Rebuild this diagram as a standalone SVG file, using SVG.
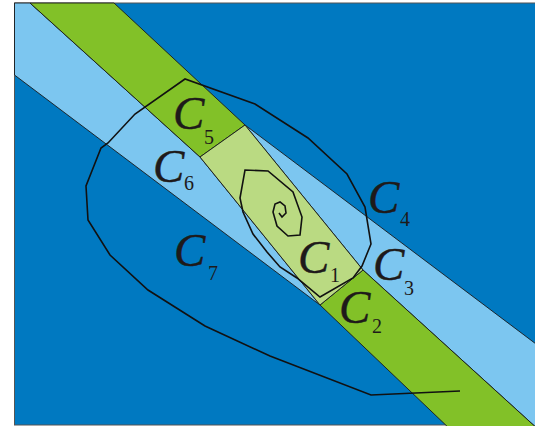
<svg xmlns="http://www.w3.org/2000/svg" width="535" height="426" viewBox="0 0 535 426">
<style>
.reg{stroke:#1a1a1a;stroke-width:0.9;stroke-linejoin:round}
.dark{fill:#0079C1}
.lb{fill:#7CC6F0}
.gr{fill:#82C128}
.lg{fill:#BADA82}
.curve{fill:none;stroke:#111;stroke-width:1.6;stroke-linejoin:miter}
.C{font-family:"Liberation Serif","DejaVu Serif",serif;font-style:italic;font-size:47px;fill:#1e1a1a;stroke:#1e1a1a;stroke-width:0.4}
.sub{font-family:"Liberation Serif","DejaVu Serif",serif;font-size:20px;fill:#1e1a1a}
</style>
<rect width="535" height="426" fill="#ffffff"/>
<g id="regions">
<rect id="C7-C4-background" class="dark" x="14.5" y="3" width="530" height="422" stroke="#555" stroke-width="1"/>
<polygon id="C6" class="reg lb" points="14.5,3 30,3 200,157 320,305 14.5,75"/>
<polygon id="C3" class="reg lb" points="245,125 540,347 540,431 363,270"/>
<polygon id="C5" class="reg gr" points="30,3 114,3 245,125 200,157"/>
<polygon id="C2" class="reg gr" points="320,305 363,270 540,431 452,431"/>
<polygon id="C1" class="reg lg" points="200,157 245,125 363,270 320,305"/>
</g>
<g id="connectors">
<path class="curve" d="M460,391 L371,395 L270,356 L205,326 L148,290 L110,255 L88,220 L86,186 L101,148 L108,143 L135,114 L185,79 L255,104 L308,138 L347,174 L365,207 L371,244 L362,266 L353,278 L320,297 L297,278 L280,267 L267,252 L253,234 L243,212 L240,198 L245,170 L268,171 L293,192 L302,217 L300,235 L288,236 L277,226 L273,212 L275,204 L280,202 L285,206 L286,213 L282,217 L279,213"/>
</g>
<g id="labels">
<g id="label-C1"><text class="C" x="298" y="273">C</text><text class="sub" x="330" y="282">1</text></g>
<g id="label-C2"><text class="C" x="339" y="323">C</text><text class="sub" x="372" y="333">2</text></g>
<g id="label-C3"><text class="C" x="373" y="280">C</text><text class="sub" x="404" y="295">3</text></g>
<g id="label-C4"><text class="C" x="368" y="213">C</text><text class="sub" x="400" y="226">4</text></g>
<g id="label-C5"><text class="C" x="173" y="129">C</text><text class="sub" x="204" y="144">5</text></g>
<g id="label-C6"><text class="C" x="153" y="182">C</text><text class="sub" x="184" y="190">6</text></g>
<g id="label-C7"><text class="C" x="174" y="266">C</text><text class="sub" x="208" y="280">7</text></g>
</g>
</svg>
